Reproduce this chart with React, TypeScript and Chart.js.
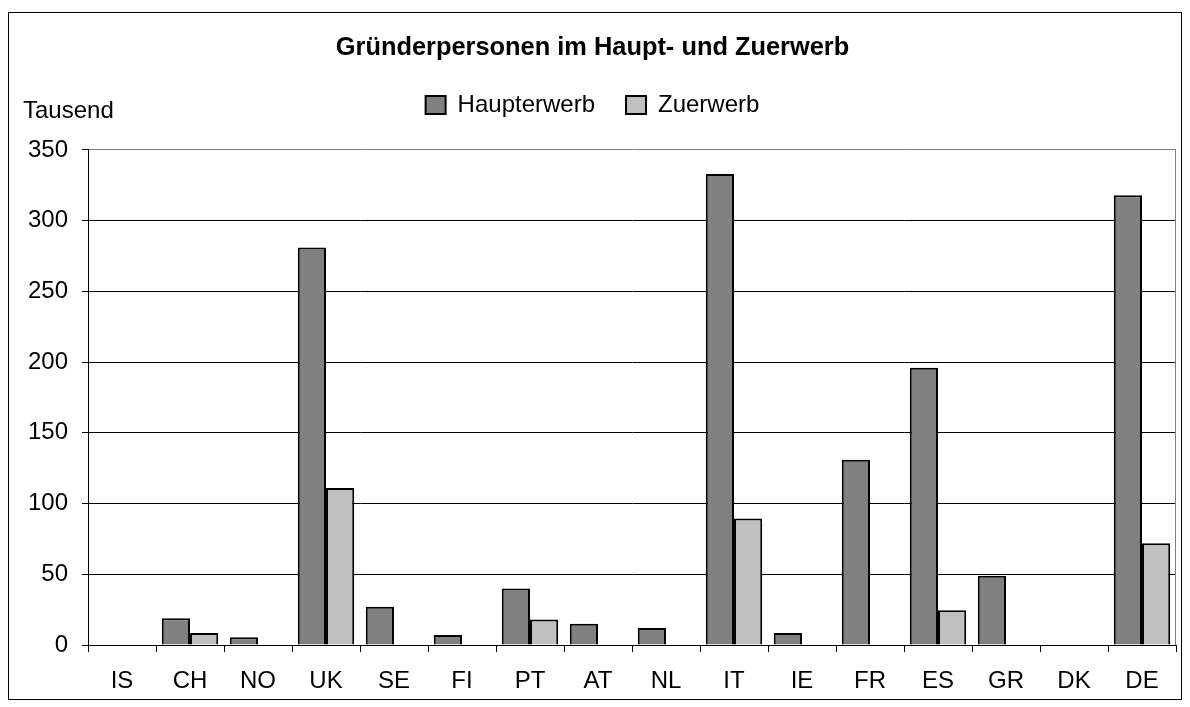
import React, { useEffect, useRef } from 'react';
import { Chart, registerables } from 'chart.js';

Chart.register(...registerables);

const categories = ['IS', 'CH', 'NO', 'UK', 'SE', 'FI', 'PT', 'AT', 'NL', 'IT', 'IE', 'FR', 'ES', 'GR', 'DK', 'DE'];
const haupterwerb = [null, 19, 5.5, 281, 27, 7, 40, 15, 12, 333, 8.5, 131, 196, 49, null, 318];
const zuerwerb = [null, 8.5, null, 111, null, null, 18, null, null, 89.5, null, null, 24.5, null, null, 72];
const seriesNames = ['Haupterwerb', 'Zuerwerb'];
const titleText = 'Gründerpersonen im Haupt- und Zuerwerb';
const unitLabel = 'Tausend';
const yMin = 0;
const yMax = 350;
const yStep = 50;

const FONT = '"Liberation Sans", Arial, sans-serif';
const LEGEND_EXTRA = 23;

export default function App() {
  const ref = useRef<HTMLCanvasElement | null>(null);

  useEffect(() => {
    if (!ref.current) return;
    Chart.defaults.color = '#000';
    Chart.defaults.font.family = FONT;

    const helperPlugin = {
      id: 'helper',
      beforeLayout(chart: any) {
        const lg = chart.legend;
        if (lg && !lg._patched) {
          const orig = lg.fit.bind(lg);
          lg.fit = function () {
            orig();
            this.height += LEGEND_EXTRA;
          };
          lg._patched = true;
        }
      },
      afterDraw(chart: any) {
        const { ctx, chartArea } = chart;
        ctx.save();
        ctx.strokeStyle = '#808080';
        ctx.lineWidth = 1;
        ctx.beginPath();
        ctx.moveTo(Math.round(chartArea.right) - 0.5, chartArea.top);
        ctx.lineTo(Math.round(chartArea.right) - 0.5, chartArea.bottom);
        ctx.stroke();
        ctx.fillStyle = '#000';
        ctx.font = `24px ${FONT}`;
        ctx.textAlign = 'left';
        ctx.textBaseline = 'middle';
        ctx.fillText(unitLabel, 14, chartArea.top - 39);
        ctx.restore();
      },
    };

    const chart = new Chart(ref.current, {
      type: 'bar',
      data: {
        labels: categories,
        datasets: [
          {
            label: seriesNames[0],
            data: haupterwerb as any,
            backgroundColor: '#808080',
            borderColor: '#000',
            borderWidth: 2,
            categoryPercentage: 0.83,
            barPercentage: 1.0,
          },
          {
            label: seriesNames[1],
            data: zuerwerb as any,
            backgroundColor: '#C0C0C0',
            borderColor: '#000',
            borderWidth: 2,
            categoryPercentage: 0.83,
            barPercentage: 1.0,
          },
        ],
      },
      options: {
        responsive: false,
        animation: false,
        layout: { padding: { left: 0, right: 5, top: 0, bottom: 0 } },
        plugins: {
          title: {
            display: true,
            text: titleText,
            font: { size: 25.4, weight: 'bold', family: FONT, lineHeight: 1.1 },
            color: '#000',
            padding: { top: 21, bottom: 0 },
          },
          legend: {
            display: true,
            position: 'top',
            labels: {
              font: { size: 24, family: FONT },
              color: '#000',
              boxWidth: 20,
              boxHeight: 18,
              padding: 31,
            },
          },
          tooltip: { enabled: false },
        },
        scales: {
          x: {
            type: 'category',
            offset: true,
            grid: {
              display: true,
              offset: true,
              drawOnChartArea: false,
              drawTicks: true,
              tickLength: 7,
              tickColor: '#000',
              color: '#000',
            },
            border: { display: true, color: '#000', width: 1 },
            ticks: {
              font: { size: 24, family: FONT },
              color: '#000',
              padding: 15,
              maxRotation: 0,
              autoSkip: false,
            },
            afterFit(scale: any) {
              scale.height = 54;
            },
          },
          y: {
            min: yMin,
            max: yMax,
            grid: {
              display: true,
              drawTicks: true,
              tickLength: 6,
              tickColor: '#000',
              color: (c: any) => (c.tick && c.tick.value === yMax ? '#808080' : '#000'),
              lineWidth: 1,
            },
            border: { display: true, color: '#000', width: 1 },
            ticks: {
              stepSize: yStep,
              font: { size: 24, family: FONT },
              color: '#000',
              padding: 14,
            },
            afterFit(scale: any) {
              scale.width = 79;
            },
          },
        },
      },
      plugins: [helperPlugin],
    });

    return () => chart.destroy();
  }, []);

  return (
    <div
      style={{
        position: 'absolute',
        left: 8,
        top: 12,
        width: 1174,
        height: 688,
        border: '1px solid #000',
        boxSizing: 'border-box',
        background: '#fff',
      }}
    >
      <canvas ref={ref} width={1172} height={686} style={{ display: 'block' }} />
    </div>
  );
}
